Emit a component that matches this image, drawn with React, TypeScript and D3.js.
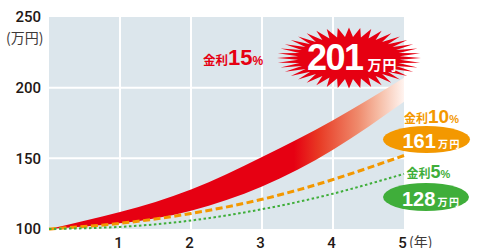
import React from "react";
import * as d3 from "d3";

const years = [0, 1, 2, 3, 4, 5];
const rate15Upper = [100, 112, 128, 151, 177, 207];
const rate15Lower = [100, 104, 113, 130, 156, 190];
const rate10 = [100, 104, 111, 121, 135, 152];
const rate5 = [100, 101.5, 106, 114, 125, 139];
const yTicks = [100, 150, 200, 250];
const xTicks = [1, 2, 3, 4, 5];
const rateLabels = ["15", "10", "5"];
const totalLabels = ["201", "161", "128"];
const unitLabel = "(万円)";
const yearLabel = "(年)";

const W = 478;
const H = 248;
const left = 49;
const right = 404;
const top = 17;
const bottom = 229;

const RED = "#e60012";
const ORANGE = "#f39800";
const GREEN = "#3fae3a";
const NUM = "'Liberation Sans', Arial, sans-serif";
const AX = "Roboto, 'Liberation Sans', sans-serif";
const JP = "'Noto Sans CJK JP', sans-serif";

export default function App() {
  const x = d3.scaleLinear().domain([0, 5]).range([left, right]);
  const y = d3.scaleLinear().domain([100, 250]).range([bottom, top]);

  const area = d3
    .area<number>()
    .x((_, i) => x(years[i]))
    .y0((_, i) => y(rate15Lower[i]))
    .y1((_, i) => y(rate15Upper[i]))
    .curve(d3.curveNatural);
  const line = d3
    .line<number>()
    .x((_, i) => x(years[i]))
    .y((d) => y(d))
    .curve(d3.curveNatural);

  // starburst
  const cx = 349, cy = 58, N = 40;
  const pts: [number, number][] = [];
  for (let i = 0; i < 2 * N; i++) {
    const a = (i * Math.PI) / N;
    const outer = i % 2 === 0;
    const rx = outer ? 72 : 51;
    const ry = outer ? 30.5 : 21;
    pts.push([cx + rx * Math.cos(a), cy - ry * Math.sin(a)]);
  }
  const burst = "M" + pts.map((p) => p.join(",")).join("L") + "Z";

  return (
    <svg
      width={W}
      height={H}
      style={{ position: "absolute", left: 0, top: 0, display: "block" }}
    >
      <defs>
        <linearGradient id="bandGrad" gradientUnits="userSpaceOnUse" x1={left} x2={right} y1={0} y2={0}>
          <stop offset="0" stopColor={RED} />
          <stop offset="0.69" stopColor={RED} />
          <stop offset="0.76" stopColor="#e83a24" />
          <stop offset="0.87" stopColor="#ef8a6c" />
          <stop offset="0.93" stopColor="#f6bda6" />
          <stop offset="1" stopColor="#fff4f0" />
        </linearGradient>
      </defs>
      <rect x={left} y={top} width={right - left} height={bottom - top} fill="#dce6ec" />
      {yTicks.slice(1, 3).map((t) => (
        <line key={"h" + t} x1={left} x2={right} y1={y(t)} y2={y(t)} stroke="#fff" strokeWidth={2} />
      ))}
      {xTicks.slice(0, 4).map((t) => (
        <line key={"v" + t} x1={x(t)} x2={x(t)} y1={top} y2={bottom} stroke="#fff" strokeWidth={2} />
      ))}

      <path d={area(years) || ""} fill="url(#bandGrad)" />
      <path d={line(rate10) || ""} fill="none" stroke={ORANGE} strokeWidth={3} strokeDasharray="7 3.5" />
      <path d={line(rate5) || ""} fill="none" stroke={GREEN} strokeWidth={2} strokeDasharray="2.5 2.5" />

      {yTicks.map((t) => (
        <text key={"yl" + t} x={41} y={y(t)} dy="0.36em" textAnchor="end" fontFamily={AX} fontWeight={500} fontSize={15} fill="#231815">
          {t}
        </text>
      ))}
      <text x={6} y={42.5} fontFamily={JP} fontSize={14} fill="#3e3a39">{unitLabel}</text>
      {xTicks.map((t) => (
        <text key={"xl" + t} x={x(t) - 1.5} y={248} textAnchor="middle" fontFamily={AX} fontWeight={500} fontSize={15} fill="#231815">
          {t}
        </text>
      ))}
      <text x={409} y={247} fontFamily={JP} fontSize={14} fill="#3e3a39">{yearLabel}</text>

      {/* 15% */}
      <path d={burst} fill={RED} />
      <text x={203} y={65} fill={RED} fontWeight="bold">
        <tspan fontFamily={JP} fontSize={12.5}>金利</tspan>
        <tspan fontFamily={NUM} fontSize={22}>{rateLabels[0]}</tspan>
        <tspan fontFamily={NUM} fontSize={12}>%</tspan>
      </text>
      <text x={307} y={70} fill="#fff" fontWeight="bold">
        <tspan fontFamily={NUM} fontSize={36} letterSpacing={-1.5}>{totalLabels[0]}</tspan>
        <tspan dx={5} fontFamily={JP} fontSize={14} letterSpacing={1}>万円</tspan>
      </text>

      {/* 10% */}
      <text x={404} y={122.5} fill={ORANGE} fontWeight="bold">
        <tspan fontFamily={JP} fontSize={12}>金利</tspan>
        <tspan fontFamily={NUM} fontSize={19}>{rateLabels[1]}</tspan>
        <tspan fontFamily={NUM} fontSize={11}>%</tspan>
      </text>
      <ellipse cx={426.5} cy={139.5} rx={43.5} ry={13.5} fill={ORANGE} />
      <text x={402.5} y={147.7} fill="#fff" fontWeight="bold">
        <tspan fontFamily={NUM} fontSize={20}>{totalLabels[1]}</tspan>
        <tspan dx={2} fontFamily={JP} fontSize={10} letterSpacing={1.5}>万円</tspan>
      </text>

      {/* 5% */}
      <text x={406.5} y={178} fill={GREEN} fontWeight="bold">
        <tspan fontFamily={JP} fontSize={12}>金利</tspan>
        <tspan fontFamily={NUM} fontSize={18}>{rateLabels[2]}</tspan>
        <tspan fontFamily={NUM} fontSize={11}>%</tspan>
      </text>
      <ellipse cx={426} cy={197} rx={43} ry={14} fill={GREEN} />
      <text x={402} y={206} fill="#fff" fontWeight="bold">
        <tspan fontFamily={NUM} fontSize={20}>{totalLabels[2]}</tspan>
        <tspan dx={2} fontFamily={JP} fontSize={10} letterSpacing={1.5}>万円</tspan>
      </text>
    </svg>
  );
}
